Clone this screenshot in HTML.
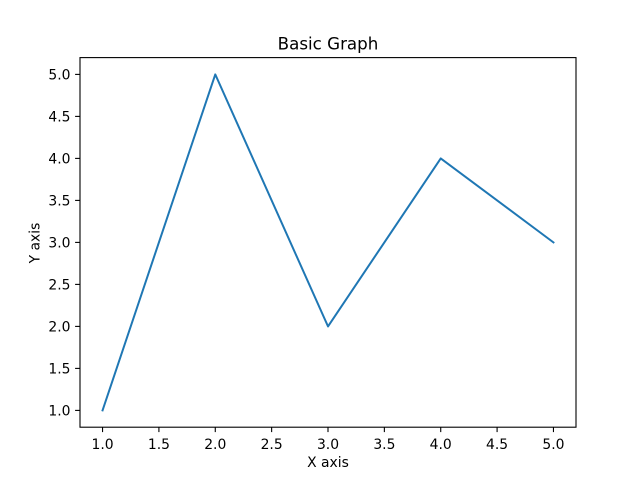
<!DOCTYPE html>
<html><head><meta charset="utf-8"><style>body{margin:0;background:#fff}svg{display:block;font-family:"DejaVu Sans","Liberation Sans",sans-serif}</style></head>
<body>
<svg id="chart" width="640" height="480" xmlns="http://www.w3.org/2000/svg">
<rect width="640" height="480" fill="#fff"/>
<text x="328" y="49.5" text-anchor="middle" font-size="16.7">Basic Graph</text>
<text x="328" y="467" text-anchor="middle" font-size="13.9">X axis</text>
<text transform="translate(39.5,243) rotate(-90)" text-anchor="middle" font-size="13.9">Y axis</text>
<g id="ticks"></g>
<polyline id="line" fill="none" stroke="#1f77b4" stroke-width="2" stroke-linejoin="round" stroke-linecap="square"/>
<rect x="80" y="57.6" width="496" height="369.6" fill="none" stroke="#000" stroke-width="1.1"/>
</svg>
<script>
const xValues = [1, 2, 3, 4, 5];
const yValues = [1, 5, 2, 4, 3];
const xTicks = [1.0, 1.5, 2.0, 2.5, 3.0, 3.5, 4.0, 4.5, 5.0];
const yTicks = [1.0, 1.5, 2.0, 2.5, 3.0, 3.5, 4.0, 4.5, 5.0];
const L=80,R=576,T=57.6,B=427.2;
const xmin=Math.min(...xValues),xmax=Math.max(...xValues),xp=(xmax-xmin)*0.05;
const ymin=Math.min(...yValues),ymax=Math.max(...yValues),yp=(ymax-ymin)*0.05;
const sx=v=>L+(v-(xmin-xp))/((xmax+xp)-(xmin-xp))*(R-L);
const sy=v=>B-(v-(ymin-yp))/((ymax+yp)-(ymin-yp))*(B-T);
const NS="http://www.w3.org/2000/svg";
const g=document.getElementById('ticks');
function mk(tag,attrs,parent){const e=document.createElementNS(NS,tag);for(const k in attrs)e.setAttribute(k,attrs[k]);parent.appendChild(e);return e;}
xTicks.forEach(t=>{
  const x=sx(t);
  const l=mk('line',{x1:x,x2:x,y1:B,y2:B+4.9,stroke:'#000','stroke-width':1.1},g);
  
  
  const s=mk('text',{x:x,y:B+22,'text-anchor':'middle','font-size':13.9},g);
  s.textContent=t.toFixed(1);
  
  
});
yTicks.forEach(t=>{
  const y=sy(t);
  const l=mk('line',{x1:L-4.9,x2:L,y1:y,y2:y,stroke:'#000','stroke-width':1.1},g);
  
  
  const s=mk('text',{x:L-9.5,y:y+5,'text-anchor':'end','font-size':13.9},g);
  s.textContent=t.toFixed(1);
  
  
});
document.getElementById('line').setAttribute('points',xValues.map((v,i)=>sx(v)+','+sy(yValues[i])).join(' '));
</script>
</body></html>
